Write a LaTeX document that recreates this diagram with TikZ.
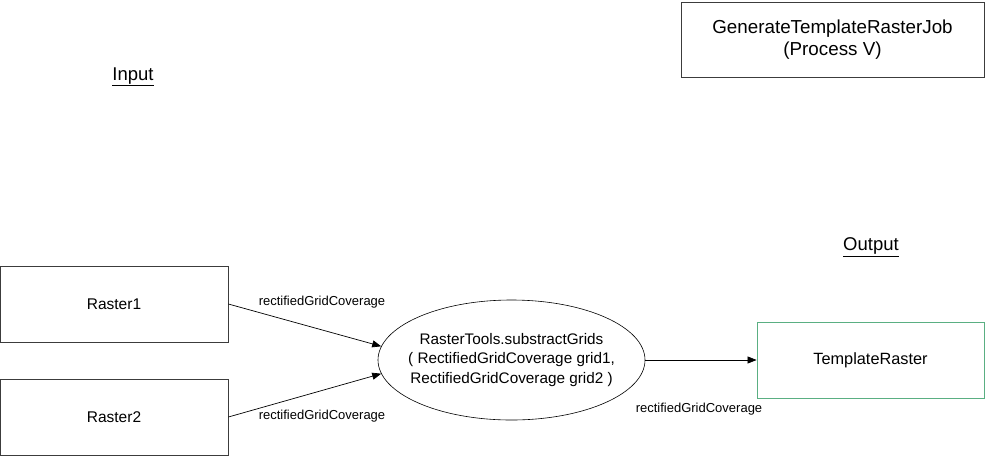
\documentclass[tikz,border=0pt]{standalone}
\usepackage{fontspec}
\setmainfont{Liberation Sans}
\usetikzlibrary{shapes.geometric,arrows.meta}
\definecolor{boxgray}{RGB}{60,60,60}
\definecolor{boxgreen}{RGB}{90,175,130}
\begin{document}
\begin{tikzpicture}[x=1pt,y=-1pt,
  rbox/.style={draw=boxgray,line width=0.8pt,minimum width=228pt,minimum height=76pt,inner sep=0pt,font=\fontsize{15.5}{19}\selectfont},
  head/.style={font=\fontsize{18.5}{21}\selectfont,inner sep=1pt},
  lbl/.style={font=\fontsize{13}{15}\selectfont,inner sep=1pt},
  conn/.style={-{Triangle[length=9pt,width=7pt]},line width=0.7pt}]
\useasboundingbox (0,0) rectangle (985,456);
\node[rbox,minimum width=303pt,minimum height=75pt,align=center,font=\fontsize{18.8}{21.5}\selectfont] (job) at (832.5,39.5) {GenerateTemplateRasterJob\\(Process V)};
\node[head] (input) at (133,77) {\underline{Input}};
\node[head] (output) at (871,247) {\underline{Output}};
\node[rbox] (r1) at (114,304) {Raster1};
\node[rbox] (r2) at (114,417) {Raster2};
\node[draw=black,line width=0.6pt,ellipse,minimum width=267pt,minimum height=120pt,inner sep=0pt] (proc) at (511.5,360) {};
\node[align=center,inner sep=0pt,font=\fontsize{15.3}{19.5}\selectfont] (proctext) at (proc.center) {RasterTools.substractGrids\\( RectifiedGridCoverage grid1,\\RectifiedGridCoverage grid2 )};
\node[rbox,draw=boxgreen,minimum width=227pt,font=\fontsize{16.3}{19}\selectfont] (tr) at (870.5,360) {TemplateRaster};
\draw[conn] (r1.east) -- (proc.174);
\draw[conn] (r2.east) -- (proc.186);
\draw[conn] (proc.east) -- (tr.west);
\node[lbl] (la) at (322,302) {rectifiedGridCoverage};
\node[lbl] (lb) at (322,416) {rectifiedGridCoverage};
\node[lbl] (lc) at (699,409) {rectifiedGridCoverage};
\end{tikzpicture}
\end{document}
